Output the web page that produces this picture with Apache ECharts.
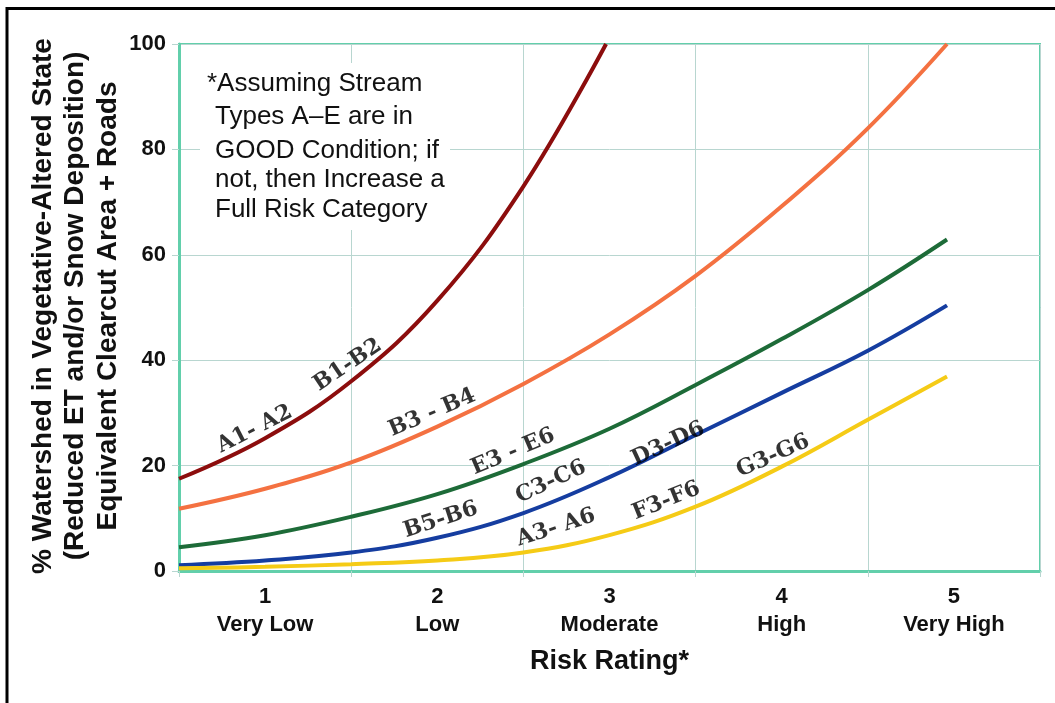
<!DOCTYPE html>
<html>
<head>
<meta charset="utf-8">
<script src="https://cdn.jsdelivr.net/npm/echarts@6/dist/echarts.min.js"></script>
<style>
html,body{margin:0;padding:0;background:#fff;}
#chart{width:1055px;height:703px;}
</style>
</head>
<body>
<div id="chart"></div>
<script>
// ---- data ----
const ratingNumbers = ['1', '2', '3', '4', '5'];
const ratingNames = ['Very Low', 'Low', 'Moderate', 'High', 'Very High'];
const yMin = 0, yMax = 100, yStep = 20;

const redX = [0.5, 1.0, 1.5, 2.0, 2.5, 2.98];
const redY = [17.5, 25.2, 36, 51.3, 73, 100];
const sharedX = [0.5, 1.0, 1.5, 2.0, 2.5, 3.0, 3.5, 4.0, 4.5, 4.96];
const orangeY = [11.8, 15.6, 20.6, 27.4, 35.5, 44.9, 56.0, 69.2, 84.0, 100];
const greenY = [4.5, 6.8, 10.3, 14.6, 20.3, 27.0, 35.3, 44.0, 53.3, 62.9];
const blueY = [1.1, 2.0, 3.5, 6.3, 11.0, 17.8, 25.8, 33.8, 41.8, 50.4];
const yellowY = [0.5, 0.8, 1.3, 2.0, 3.5, 6.8, 12.2, 19.8, 28.7, 36.9];

const curveLabels = ['A1- A2', 'B1-B2', 'B3 - B4', 'E3 - E6', 'B5-B6', 'C3-C6', 'D3-D6', 'A3- A6', 'F3-F6', 'G3-G6'];
const curveLabelX = [0.94, 1.48, 1.97, 2.44, 2.02, 2.66, 3.34, 2.69, 3.33, 3.95];
const curveLabelY = [26.9, 39.1, 30.0, 22.6, 9.7, 16.9, 24.1, 8.2, 13.3, 21.8];
const curveLabelAngle = [27, 34, 23, 23, 18, 25, 25, 18, 22, 24];

const noteLines = ['*Assuming Stream', 'Types A\u2013E are in', 'GOOD Condition; if', 'not, then Increase a', 'Full Risk Category'];
const yTitleLines = ['% Watershed in Vegetative-Altered State', '(Reduced ET and/or Snow Deposition)', 'Equivalent Clearcut Area + Roads'];
const xTitle = 'Risk Rating*';

// ---- styles ----
const axisTeal = '#62cfab';
const gridCol = '#b8d6d0';
const sansBold = {fontFamily: 'Liberation Sans, Arial, sans-serif', fontWeight: 'bold', color: '#111'};

function pairs(xs, ys) { return xs.map((x, i) => [x, ys[i]]); }
function curve(name, xs, ys, color) {
  return {
    name: name, type: 'line', xAxisIndex: 1, yAxisIndex: 0,
    data: pairs(xs, ys), smooth: 0.4,
    showSymbol: false, symbol: 'none',
    lineStyle: {color: color, width: 4, cap: 'butt'},
    itemStyle: {color: color}, z: 3, clip: true
  };
}

const chart = echarts.init(document.getElementById('chart'), null, {renderer: 'canvas'});

const noteY = [84, 117, 151, 180, 210];
const graphic = [
  {type: 'rect', shape: {x: 7, y: 8.5, width: 2000, height: 2000},
   style: {fill: 'none', stroke: '#000', lineWidth: 3}, z: 100},
  {type: 'rect', shape: {x: 200, y: 63, width: 250, height: 167},
   style: {fill: '#fff'}, z: 50}
];
noteLines.forEach((t, i) => {
  graphic.push({type: 'text', x: i === 0 ? 207 : 215, y: noteY[i], z: 51,
    style: {text: t, font: '26px "Liberation Sans", Arial, sans-serif', fill: '#111',
      textAlign: 'left', textVerticalAlign: 'middle'}});
});
const yTitleX = [43, 75, 108];
yTitleLines.forEach((t, i) => {
  graphic.push({type: 'text', x: yTitleX[i], y: 306, rotation: Math.PI / 2, z: 51,
    style: {text: t, font: 'bold 28px "Liberation Sans", Arial, sans-serif', fill: '#111',
      textAlign: 'center', textVerticalAlign: 'middle'}});
});

const option = {
  backgroundColor: '#fff',
  animation: false,
  grid: {left: 179, right: 15, top: 44, bottom: 132, show: true,
    borderColor: axisTeal, borderWidth: 2, backgroundColor: 'transparent'},
  xAxis: [
    {type: 'category', data: ratingNumbers.map((n, i) => n + '\n' + ratingNames[i]),
     boundaryGap: true, position: 'bottom',
     axisLine: {show: true, lineStyle: {color: axisTeal, width: 3}},
     axisTick: {show: true, length: 6, lineStyle: {color: gridCol, width: 1}},
     splitLine: {show: true, lineStyle: {color: gridCol, width: 1}},
     axisLabel: Object.assign({fontSize: 22, lineHeight: 28, margin: 12}, sansBold),
     name: xTitle, nameLocation: 'middle', nameGap: 77,
     nameTextStyle: Object.assign({fontSize: 27}, sansBold)},
    {type: 'value', min: 0.5, max: 5.5, show: false}
  ],
  yAxis: [{
    type: 'value', min: yMin, max: yMax, interval: yStep,
    axisLine: {show: true, lineStyle: {color: axisTeal, width: 3}},
    axisTick: {show: true, length: 7, lineStyle: {color: gridCol, width: 1}},
    splitLine: {show: true, lineStyle: {color: gridCol, width: 1}},
    axisLabel: Object.assign({fontSize: 22, margin: 13}, sansBold)
  }],
  graphic: graphic,
  series: [
    curve('A1-B2', redX, redY, '#8c0d0d'),
    curve('B3-B4', sharedX, orangeY, '#f47141'),
    curve('E3-E6', sharedX, greenY, '#1d6b38'),
    curve('B5-D6', sharedX, blueY, '#153da0'),
    curve('A3-G6', sharedX, yellowY, '#f5cb16'),
    {
      type: 'scatter', xAxisIndex: 1, yAxisIndex: 0, symbolSize: 0, z: 10,
      itemStyle: {color: 'rgba(0,0,0,0)'},
      label: {show: true, position: 'inside', formatter: '{b}',
        fontFamily: 'DejaVu Serif, Liberation Serif, serif', fontWeight: 'bold',
        fontSize: 22, color: '#000'},
      data: curveLabels.map((t, i) => ({name: t, value: [curveLabelX[i], curveLabelY[i]],
        label: {rotate: curveLabelAngle[i]}}))
    }
  ]
};
chart.setOption(option);
</script>
</body>
</html>
